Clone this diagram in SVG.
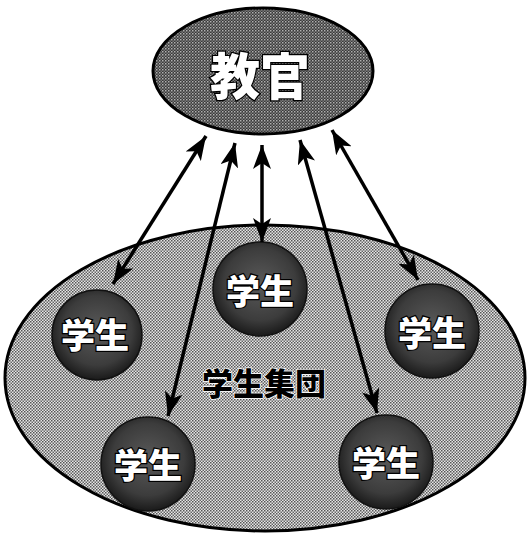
<svg xmlns="http://www.w3.org/2000/svg" width="529" height="537" viewBox="0 0 529 537">
<defs>
<pattern id="chkLight" width="3" height="3" patternUnits="userSpaceOnUse">
<rect width="3" height="3" fill="#e6e6e6"/>
<rect x="0" y="0" width="1.5" height="1.5" fill="#555"/>
<rect x="1.5" y="1.5" width="1.5" height="1.5" fill="#666"/>
</pattern>
<pattern id="chkDark" width="3" height="3" patternUnits="userSpaceOnUse">
<rect width="3" height="3" fill="#3a3a3a"/>
<rect x="0" y="0" width="1.5" height="1.5" fill="#b0b0b0"/>
<rect x="1.5" y="1.5" width="1.5" height="1.5" fill="#777"/>
</pattern>
<radialGradient id="ballG" cx="0.5" cy="0.45" r="0.55">
<stop offset="0" stop-color="#5a5a5a"/>
<stop offset="0.7" stop-color="#3c3c3c"/>
<stop offset="1" stop-color="#1a1a1a"/>
</radialGradient>
<marker id="ah" viewBox="0 0 24 18" refX="24" refY="9" markerWidth="24" markerHeight="18" markerUnits="userSpaceOnUse" orient="auto-start-reverse">
<path d="M0,0 L24,9 L0,18 L6,9 Z" fill="#000"/>
</marker>
<style>
.big{fill:url(#chkLight);stroke:#000;stroke-width:3}
.top{fill:url(#chkDark);stroke:#000;stroke-width:3}
.ball{fill:url(#ballG);stroke:#111;stroke-width:1.5}
.lbl{font-family:"Noto Sans CJK JP","Noto Sans CJK SC",sans-serif;font-weight:900;fill:#fff;stroke:#000;stroke-width:2.5;paint-order:stroke;text-anchor:middle;dominant-baseline:central}
.grp{font-family:"Noto Sans CJK JP","Noto Sans CJK SC",sans-serif;font-weight:900;fill:#000;stroke:#fff;stroke-width:1.5;paint-order:stroke;text-anchor:middle;dominant-baseline:central}
.arr{stroke:#000;stroke-width:3.5;fill:none;marker-start:url(#ah);marker-end:url(#ah)}
</style>
</defs>
<g id="group">
<ellipse class="big" cx="265" cy="378" rx="260" ry="153"/>
<text class="grp" x="264" y="381" font-size="31">学生集団</text>
</g>
<g id="teacher">
<ellipse class="top" cx="263" cy="71" rx="110" ry="63"/>
<text class="lbl" x="260" y="73" font-size="50">教官</text>
</g>
<g id="s-left">
<circle class="ball" cx="97" cy="335" r="45"/>
<text class="lbl" x="95" y="333" font-size="34">学生</text>
</g>
<g id="s-center">
<circle class="ball" cx="260" cy="289" r="47"/>
<text class="lbl" x="260" y="289" font-size="34">学生</text>
</g>
<g id="s-right">
<circle class="ball" cx="432" cy="331" r="47"/>
<text class="lbl" x="432" y="331" font-size="34">学生</text>
</g>
<g id="s-bottomleft">
<circle class="ball" cx="148" cy="464" r="47"/>
<text class="lbl" x="148" y="463" font-size="34">学生</text>
</g>
<g id="s-bottomright">
<circle class="ball" cx="386" cy="462" r="47"/>
<text class="lbl" x="386" y="461" font-size="34">学生</text>
</g>
<g id="connectors">
<line class="arr" x1="206" y1="136" x2="113" y2="284"/>
<line class="arr" x1="235" y1="143" x2="168" y2="416"/>
<line class="arr" x1="262" y1="145" x2="262" y2="242"/>
<line class="arr" x1="300" y1="140" x2="377" y2="413"/>
<line class="arr" x1="332" y1="130" x2="418" y2="280"/>
</g>
</svg>
